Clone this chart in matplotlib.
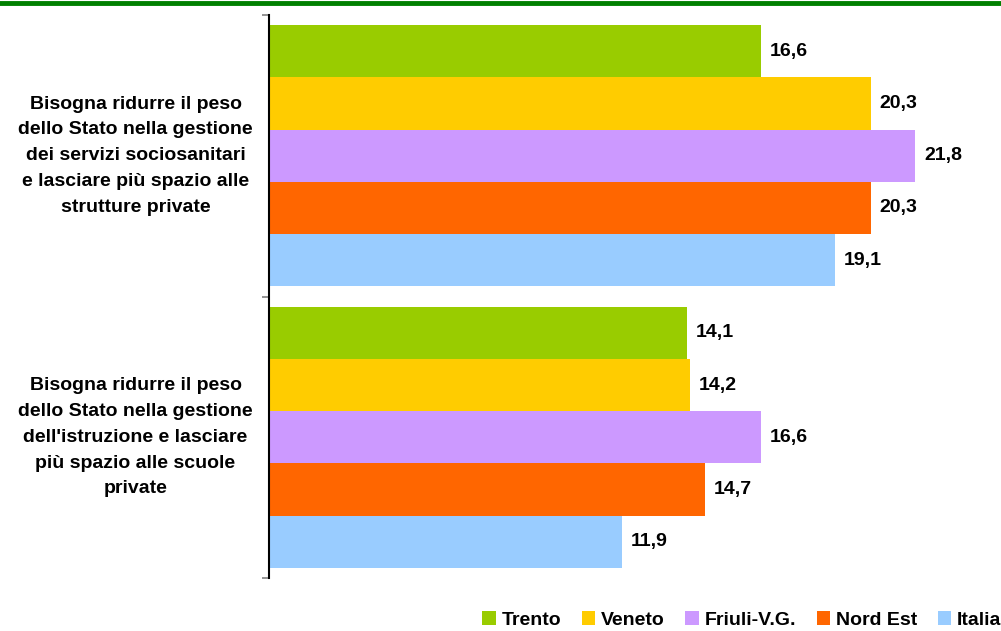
import matplotlib
matplotlib.use("Agg")
import matplotlib.pyplot as plt
from matplotlib.patches import Patch
import numpy as np

plt.rcParams['font.family'] = ['Liberation Sans', 'DejaVu Sans']

categories = [
    "Bisogna ridurre il peso\ndello Stato nella gestione\ndei servizi sociosanitari\ne lasciare più spazio alle\nstrutture private",
    "Bisogna ridurre il peso\ndello Stato nella gestione\ndell'istruzione e lasciare\npiù spazio alle scuole\nprivate",
]
series = ["Trento", "Veneto", "Friuli-V.G.", "Nord Est", "Italia"]
trento = [16.6, 14.1]
veneto = [20.3, 14.2]
friuli = [21.8, 16.6]
nordest = [20.3, 14.7]
italia = [19.1, 11.9]
values = [trento, veneto, friuli, nordest, italia]
colors = ["#99CC00", "#FFCC00", "#CC99FF", "#FF6600", "#99CCFF"]

fig = plt.figure(figsize=(10.01, 6.31), dpi=100)
ax = fig.add_axes([269/1001, 1-578/631, 1-269/1001, (578-15)/631])

bw = 0.1855
ncat = len(categories)
for i, (name, vals, c) in enumerate(zip(series, values, colors)):
    for j, v in enumerate(vals):
        center = j + 0.5 + (i - 2) * bw
        ax.barh(center, v, height=bw, color=c, edgecolor='none')
        ax.text(v + 0.3, center, f"{v:.1f}".replace('.', ','), va='center', ha='left',
                fontsize=14, fontweight='bold', color='black')

ax.set_ylim(ncat, 0)
ax.set_xlim(0, (1001-269)/29.65)
ax.set_yticks([0, 1, 2])
ax.set_yticklabels([])
ax.tick_params(axis='y', length=5, width=1.2, color='#808080', direction='out')
ax.set_xticks([])
for s in ['top', 'right', 'bottom']:
    ax.spines[s].set_visible(False)
ax.spines['left'].set_linewidth(1.5)
ax.spines['left'].set_color('black')

for j, cat in enumerate(categories):
    fig.text(135.5/1001, 1 - (15 + (j + 0.5) * 281.5)/631, cat, ha='center', va='center',
             fontsize=14, fontweight='bold', linespacing=1.68)

fig.add_artist(plt.Line2D([0, 1], [1-3/631, 1-3/631], color='#008000', linewidth=3.5))

handles = [Patch(facecolor=c, edgecolor='none') for c in colors]
fig.legend(handles, series, loc='lower right', bbox_to_anchor=(1.018, -0.024), ncol=5,
           frameon=False, handlelength=0.7, handleheight=0.7, handletextpad=0.3,
           columnspacing=1.05, prop={'weight': 'bold', 'size': 14})

fig.savefig("out.png", dpi=100)
